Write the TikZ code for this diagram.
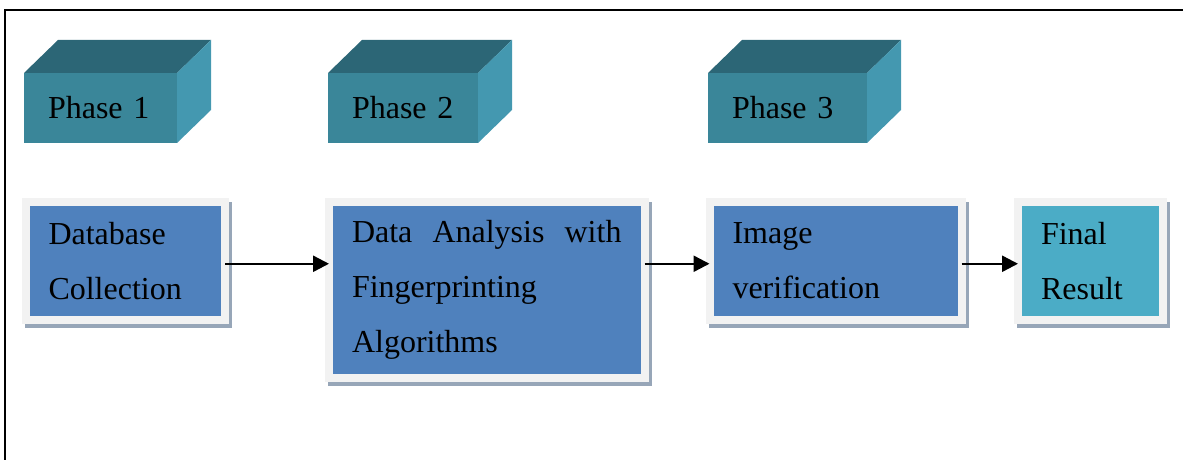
\documentclass[tikz,border=0pt]{standalone}
\usepackage{fontspec}
\setmainfont{Liberation Serif}
\usetikzlibrary{arrows.meta}
\definecolor{phase}{HTML}{3A8699}
\definecolor{phasetop}{HTML}{2C6676}
\definecolor{phaseside}{HTML}{4498B0}
\definecolor{process}{HTML}{4F81BD}
\definecolor{result}{HTML}{4BACC6}
\definecolor{frame}{HTML}{F2F2F2}
\definecolor{shade}{HTML}{97A6B8}
\DeclareRobustCommand\phasefont{\fontsize{16}{19}\selectfont\spaceskip=2.6pt\relax}
\tikzset{phase/.style={black,fill=phase,rectangle,outer sep=0pt,minimum height=35pt,inner xsep=12pt,align=left,font=\phasefont}}
\tikzset{stage/.style={black,draw=frame,line width=4pt,rectangle,outer sep=0pt,inner xsep=11.5pt,align=left,font=\fontsize{16}{27.5}\selectfont,preaction={draw=shade,fill=shade,transform canvas={xshift=1.5pt,yshift=-2pt}}}}
\tikzset{process/.style={stage,fill=process}}
\tikzset{result/.style={stage,fill=result}}
\tikzset{link/.style={-{Triangle[length=8pt,width=8pt]},line width=1.2pt,transform canvas={yshift=-1.5pt}}}

\begin{document}
\begin{tikzpicture}[x=0.5pt,y=-0.5pt]
    \useasboundingbox (0,0) rectangle (1183,460);
    \draw[line width=1pt] (5,460) -- (5,10) -- (1183,10);

    \node[phase,minimum width=76.5pt,text width=52.5pt] (phase1) at (100.5,108) {Phase 1};
    \node[phase,minimum width=75pt,text width=51pt] (phase2) at (403,108) {Phase 2};
    \node[phase,minimum width=79.5pt,text width=55.5pt] (phase3) at (787.5,108) {Phase 3};

    \foreach \p in {phase1,phase2,phase3} {
        \fill[phasetop] (\p.north west) -- ([shift={(34,-33)}]\p.north west) -- ([shift={(34,-33)}]\p.north east) -- (\p.north east) -- cycle;
        \fill[phaseside] (\p.north east) -- ([shift={(34,-33)}]\p.north east) -- ([shift={(34,-33)}]\p.south east) -- (\p.south east) -- cycle;
    }

    \node[process,minimum height=58.75pt,text width=76.75pt] (db) at (125.25,260.75) {Database\\Collection};
    \node[process,minimum height=87.75pt,text width=134.75pt] (analysis) at (486.75,289.75) {Data\hfill Analysis\hfill with\\Fingerprinting\\Algorithms};
    \node[process,minimum height=58.75pt,text width=103pt] (verify) at (835.5,260.75) {Image\\verification};
    \node[result,minimum height=58.75pt,text width=49.5pt] (final) at (1090.5,260.75) {Final\\Result};

    \draw[link] (db.east) -- (db.east -| analysis.west);
    \draw[link] (analysis.east |- verify.west) -- (verify.west);
    \draw[link] (verify.east) -- (final.west);
\end{tikzpicture}
\end{document}
